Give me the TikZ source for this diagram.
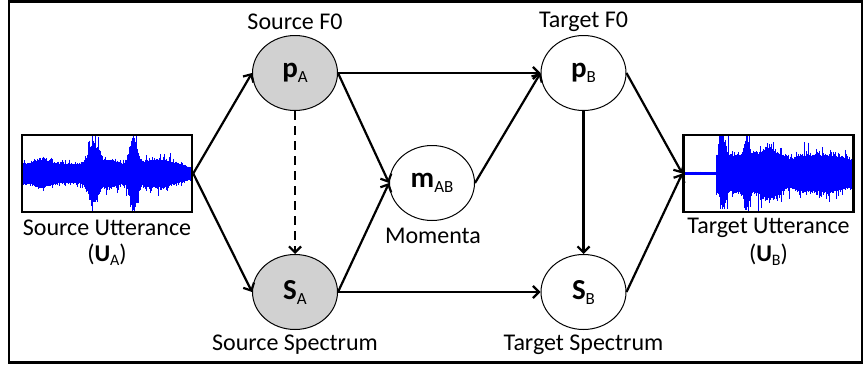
\documentclass[tikz,border=0pt]{standalone}
\usepackage{fontspec}
\setmainfont{Carlito}
\usetikzlibrary{shapes.geometric,arrows.meta}
\newcommand\bsym[2]{{\fontsize{29}{30}\selectfont\bfseries #1}\raisebox{-5pt}{\fontsize{17}{17}\selectfont #2}}
\newcommand\usym[2]{({\bfseries #1}\raisebox{-4pt}{\fontsize{16}{16}\selectfont #2})}
\begin{document}
\begin{tikzpicture}[x=1pt,y=-1pt,
  declare function={
    gg(\x,\c,\w)=exp(max(-9,-((\x-\c)/\w)*((\x-\c)/\w)));
    envA(\t)=24+10*gg(\t,0.12,0.07)+48*gg(\t,0.42,0.04)+10*gg(\t,0.52,0.05)+64*gg(\t,0.655,0.03)+12*gg(\t,0.8,0.08)-8*gg(\t,1,0.06);
    envB(\t)=(\t<0.19) ? 3 : (44+40*gg(\t,0.23,0.02)+40*gg(\t,0.37,0.02)+18*gg(\t,0.5,0.05)-10*gg(\t,0.63,0.04)-10*gg(\t,1,0.08));
  },
  ell/.style={ellipse,draw,line width=1pt,minimum width=85pt,minimum height=75pt,inner sep=0pt},
  shaded/.style={fill=black!18},
  arr/.style={line width=2.2pt,-{Straight Barb[length=6pt,width=12pt]}},
  lab/.style={font=\fontsize{24}{28}\selectfont,inner sep=0pt},
  wbox/.style={draw,line width=2.5pt,minimum width=170pt,minimum height=77pt,inner sep=0pt},
  wave/.style={blue,line width=0.7pt}]
\useasboundingbox (0,0) rectangle (864,364);
\draw[line width=2.5pt] (9,1.5) rectangle (862,362.5);

% waveform boxes
\node[wbox] (UA) at (107,173.5) {};
\node[wbox] (UB) at (768.5,173.5) {};
\begin{scope}
\clip (23,136) rectangle (191,211);
\pgfmathsetseed{7}
\foreach \i in {0,...,339} {
  \pgfmathsetmacro\e{envA(\i/340)}
  \pgfmathsetmacro\up{\e*(0.38+0.62*rnd*rnd*rnd*rnd)}
  \pgfmathsetmacro\dn{\e*(0.38+0.62*rnd*rnd*rnd*rnd)}
  \draw[wave] (22+\i*0.5,173.5-\up) -- (22+\i*0.5,173.5+\dn);
}
\end{scope}
\begin{scope}
\clip (685,136) rectangle (852,211);
\pgfmathsetseed{11}
\foreach \i in {0,...,337} {
  \pgfmathsetmacro\e{envB(\i/338)}
  \pgfmathsetmacro\up{\e*(0.4+0.6*rnd*rnd*rnd*rnd)}
  \pgfmathsetmacro\dn{\e*(0.4+0.6*rnd*rnd*rnd*rnd)}
  \draw[wave] (684+\i*0.5,173.5-\up) -- (684+\i*0.5,173.5+\dn);
}
\end{scope}
\node[wbox] at (UA) {};
\node[wbox] at (UB) {};

% nodes
\node[ell,shaded] (pA) at (295,73) {\bsym{p}{A}};
\node[ell,shaded] (SA) at (295,292) {\bsym{S}{A}};
\node[ell] (pB) at (583.5,73) {\bsym{p}{B}};
\node[ell] (SB) at (583.5,292) {\bsym{S}{B}};
\node[ell] (mAB) at (432,183) {\bsym{m}{AB}};

% labels
\node[lab] (lpA) at (295,22) {Source F0};
\node[lab] (lpB) at (583.5,22) {Target F0};
\node[lab] (lSA) at (295,345) {Source Spectrum};
\node[lab] (lSB) at (583.5,345) {Target Spectrum};
\node[lab] (lm) at (433,236) {Momenta};
\node[lab] (lUA) at (107,228) {Source Utterance};
\node[lab] (lUA2) at (107,255) {\usym{U}{A}};
\node[lab] (lUB) at (768.5,228) {Target Utterance};
\node[lab] (lUB2) at (768.5,255) {\usym{U}{B}};

% connectors
\draw[arr] (UA.east) -- (pA.west);
\draw[arr] (UA.east) -- (SA.west);
\draw[arr] (pA.east) -- (pB.west);
\draw[arr] (pA.east) -- (mAB.west);
\draw[arr] (SA.east) -- (mAB.west);
\draw[arr] (SA.east) -- (SB.west);
\draw[arr] (mAB.east) -- (pB.west);
\draw[arr,dash pattern=on 9pt off 6pt] (pA.south) -- (SA.north);
\draw[arr] (pB.south) -- (SB.north);
\draw[arr] (pB.east) -- (UB.west);
\draw[arr] (SB.east) -- (UB.west);
\end{tikzpicture}
\end{document}
